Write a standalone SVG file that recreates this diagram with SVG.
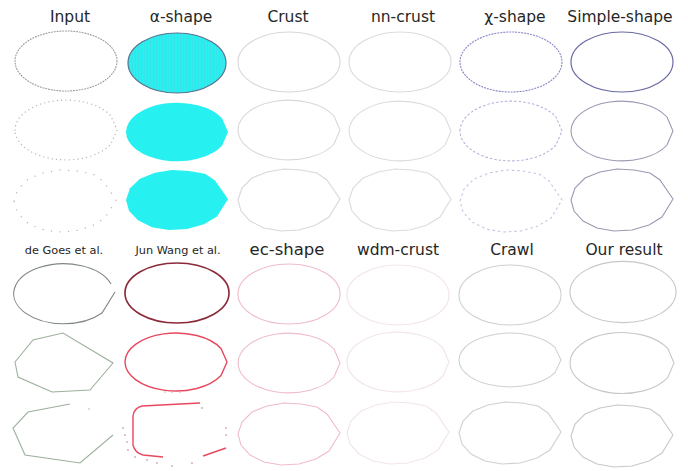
<svg xmlns="http://www.w3.org/2000/svg" width="688" height="471" viewBox="0 0 688 471">
<defs>
<style>
.t{font-family:"DejaVu Sans","Liberation Sans",sans-serif;font-size:15.5px;fill:#262626;text-anchor:middle}
.ts{font-size:11.3px}
.s{fill:none}
.in1{stroke:#9a9a9a;stroke-width:1.1;stroke-dasharray:1 1.8;stroke-linecap:round}
.in2{stroke:#b4b4b4;stroke-width:1.3;stroke-dasharray:0.1 4.2;stroke-linecap:round}
.in3{stroke:#bcbcbc;stroke-width:1.4;stroke-dasharray:0.1 8.5;stroke-linecap:round}
.cr{stroke:#d8d8d8;stroke-width:1.1}
.nn{stroke:#dcdcde;stroke-width:1.1}
.chi1{stroke:#8888c8;stroke-width:1.1;stroke-dasharray:2 1}
.chi2{stroke:#b4b4dc;stroke-width:1.1;stroke-dasharray:2.5 2}
.chi3{stroke:#c4c4e4;stroke-width:1.1;stroke-dasharray:2.5 3}
.ss1{stroke:#6a6aa4;stroke-width:1.2}
.ss2{stroke:#9a9ab2;stroke-width:1.1}
.al{fill:#26f0f0}
.dg1{stroke:#7e887e;stroke-width:1.1}
.dg{stroke:#9cb09c;stroke-width:1.1;fill:none}
.jw1{stroke:#8a2a3a;stroke-width:1.6}
.jw{stroke:#e8485e;stroke-width:1.4;fill:none}
.dot{fill:#d0a8b0}
.ec{stroke:#efbcc8;stroke-width:1.1}
.wd{stroke:#f3e6e6;stroke-width:1.2}
.cw{stroke:#d0d0d0;stroke-width:1.1}
.ou{stroke:#c8c8c8;stroke-width:1.1}
</style>
<ellipse id="A" cx="0" cy="0" rx="51" ry="30"/>
<path id="B" d="M -51 0 A 51 30 0 0 1 45 -14 L 51 0 L 45 14 A 51 30 0 0 1 -51 0 Z"/>
<polygon id="C" points="-51,0 -47,-12 -37,-22 -22,-28 -5,-31 12,-30 28,-27 38,-20 51,-1 40,17 27,25 10,30 -8,31 -25,28 -39,21 -48,11"/>
<pattern id="stripe" width="3" height="10" patternUnits="userSpaceOnUse">
<rect width="3" height="10" fill="#26f0f0"/>
<rect width="1" height="10" fill="#3fdfe6"/>
</pattern>
</defs>
<rect width="688" height="471" fill="#ffffff"/>

<g id="titles">
<text class="t" x="70" y="22">Input</text>
<text class="t" x="181" y="22">α-shape</text>
<text class="t" x="288" y="22">Crust</text>
<text class="t" x="403" y="22">nn-crust</text>
<text class="t" x="515" y="22">χ-shape</text>
<text class="t" x="620" y="22">Simple-shape</text>
<text class="t ts" x="64" y="254">de Goes et al.</text>
<text class="t ts" x="178" y="254">Jun Wang et al.</text>
<text class="t" x="287" y="255" style="font-size:16.5px">ec-shape</text>
<text class="t" x="398" y="255">wdm-crust</text>
<text class="t" x="512" y="255">Crawl</text>
<text class="t" x="624" y="255">Our result</text>
</g>

<g id="input">
<use href="#A" class="s in1" transform="translate(66,61)"/>
<use href="#B" class="s in2" transform="translate(66,130)"/>
<use href="#C" class="s in3" transform="translate(65,201)"/>
</g>

<g id="alpha-shape">
<ellipse cx="177" cy="63" rx="49" ry="30" fill="url(#stripe)" stroke="#5a7490" stroke-width="1.2"/>
<use href="#B" class="al" transform="translate(177,132) scale(1,0.98)"/>
<use href="#C" class="al" transform="translate(177,200) scale(1,0.97)"/>
</g>

<g id="crust">
<use href="#A" class="s cr" transform="translate(289,62)"/>
<use href="#B" class="s cr" transform="translate(289,130)"/>
<use href="#C" class="s cr" transform="translate(289,200)"/>
</g>

<g id="nn-crust">
<use href="#A" class="s nn" transform="translate(400,62)"/>
<use href="#B" class="s nn" transform="translate(400,131)"/>
<use href="#C" class="s nn" transform="translate(400,200)"/>
</g>

<g id="chi-shape">
<use href="#A" class="s chi1" transform="translate(511,62)"/>
<use href="#B" class="s chi2" transform="translate(511,131)"/>
<use href="#C" class="s chi3" transform="translate(511,201)"/>
</g>

<g id="simple-shape">
<use href="#A" class="s ss1" transform="translate(622,62)"/>
<use href="#B" class="s ss2" transform="translate(622,131)"/>
<use href="#C" class="s ss2" transform="translate(622,200)"/>
</g>

<g id="de-goes">
<path class="s dg1" d="M 115 292 L 102 313 A 50 30 0 1 1 111 284"/>
<polygon class="dg" points="15,362 33,340 63,333 113,363 90,390 52,392 18,377"/>
<polyline class="dg" points="70,404 28,412 13,428 25,455 80,463 113,435"/>
<circle cx="89" cy="409" r="0.8" fill="#a8b4a8"/>
</g>

<g id="jun-wang">
<use href="#A" class="s jw1" transform="translate(177,293) scale(1.02,1)"/>
<use href="#B" class="jw" transform="translate(176,362) scale(1,0.97)"/>
<path class="jw" d="M 200 403 L 142 406 Q 134 408 133 416 L 133 445 Q 135 453 143 455 L 163 457"/>
<path class="jw" d="M 203 456 L 226 448"/>
<g class="dot">
<circle cx="123" cy="428" r="0.9"/><circle cx="125" cy="435" r="0.9"/><circle cx="127" cy="442" r="0.9"/>
<circle cx="128" cy="450" r="0.9"/><circle cx="135" cy="457" r="0.9"/><circle cx="147" cy="460" r="0.9"/>
<circle cx="157" cy="463" r="0.9"/><circle cx="172" cy="466" r="0.9"/><circle cx="192" cy="463" r="0.9"/>
<circle cx="202" cy="408" r="0.9"/><circle cx="226" cy="428" r="0.9"/><circle cx="226" cy="435" r="0.9"/>
<circle cx="165" cy="392" r="0.8"/><circle cx="172" cy="392" r="0.8"/><circle cx="180" cy="392" r="0.8"/>
</g>
</g>

<g id="ec-shape">
<use href="#A" class="s ec" transform="translate(289,294)"/>
<use href="#B" class="s ec" transform="translate(289,363)"/>
<use href="#C" class="s ec" transform="translate(289,434)"/>
</g>

<g id="wdm-crust">
<use href="#A" class="s wd" transform="translate(398,295)"/>
<use href="#B" class="s wd" transform="translate(398,362)"/>
<use href="#C" class="s wd" transform="translate(398,433)"/>
</g>

<g id="crawl">
<use href="#A" class="s cw" transform="translate(510,295)"/>
<use href="#B" class="s cw" transform="translate(510,360) scale(1,0.9)"/>
<use href="#C" class="s cw" transform="translate(510,433)"/>
</g>

<g id="our-result">
<use href="#A" class="s ou" transform="translate(623,292) scale(1.04,1.02)"/>
<use href="#B" class="s ou" transform="translate(622,363) scale(1.02,1.02)"/>
<use href="#C" class="s ou" transform="translate(622,436)"/>
</g>

<g id="connectors"/>
</svg>
